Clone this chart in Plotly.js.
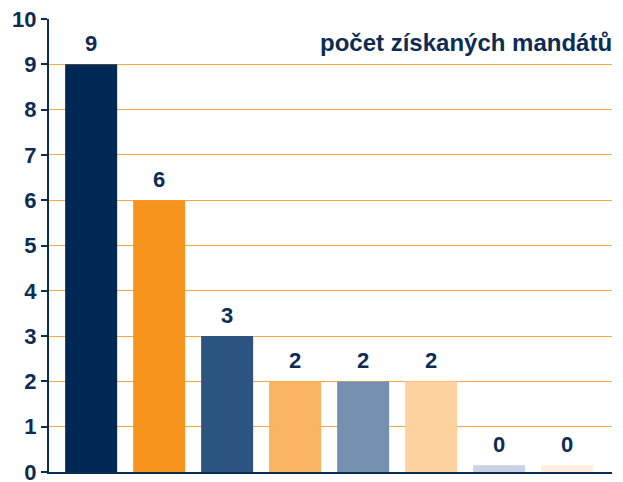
<!DOCTYPE html>
<html>
<head>
<meta charset="utf-8">
<script src="https://cdn.plot.ly/plotly-3.0.1.min.js"></script>
<style>html,body{margin:0;padding:0;background:#fff;}#chart{width:623px;height:482px;}</style>
</head>
<body>
<div id="chart"></div>
<script>
const categories = ["A", "B", "C", "D", "E", "F", "G", "H"];
const seats = [9, 6, 3, 2, 2, 2, 0, 0];
const barColors = ["#002855", "#f7941d", "#2b5580", "#fbb462", "#7690b0", "#fed29e", "#c9d3e3", "#fdefdf"];
const titleText = "počet získaných mandátů";
const yTicks = [0, 1, 2, 3, 4, 5, 6, 7, 8, 9, 10];

const navy = "#0d2c54";
const fontFam = "Liberation Sans, Arial, sans-serif";
const stub = 0.15; // minimal visible height for zero-value bars
const xIdx = categories.map((c, i) => i);
const shown = seats.map(v => Math.max(v, stub));

const trace = {
  type: "bar",
  x: xIdx,
  y: shown,
  marker: { color: barColors, line: { width: 0 } },
  hoverinfo: "skip",
  showlegend: false
};

const annotations = seats.map((v, i) => ({
  x: i, y: shown[i], xref: "x", yref: "y",
  text: String(v), showarrow: false, yanchor: "bottom", yshift: 6,
  font: { family: fontFam, size: 22, color: navy, weight: 700 }
}));
annotations.push({
  x: 1.003, xref: "paper", xanchor: "right", y: 9.48, yref: "y", yanchor: "middle",
  text: titleText, showarrow: false,
  font: { family: fontFam, size: 24, color: navy, weight: 700 }
});

const layout = {
  width: 623, height: 482,
  margin: { l: 49, r: 11, t: 19, b: 10 },
  paper_bgcolor: "#fff", plot_bgcolor: "#fff",
  bargap: 0.235,
  xaxis: {
    range: [-0.62, 7.66], showticklabels: false, ticks: "", showgrid: false,
    zeroline: false, showline: true, linecolor: navy, linewidth: 2, fixedrange: true
  },
  yaxis: {
    range: [0, 10], tickvals: yTicks, ticktext: yTicks.map(String),
    ticks: "outside", ticklen: 6, tickwidth: 2, tickcolor: navy,
    showline: true, linecolor: navy, linewidth: 2,
    showgrid: true, gridcolor: "#f8a940", gridwidth: 1,
    zeroline: false, automargin: false, ticklabeloverflow: "allow",
    tickfont: { family: fontFam, size: 22, color: navy, weight: 700 },
    fixedrange: true
  },
  annotations: annotations
};

Plotly.newPlot("chart", [trace], layout, { displayModeBar: false, staticPlot: true });
</script>
</body>
</html>
